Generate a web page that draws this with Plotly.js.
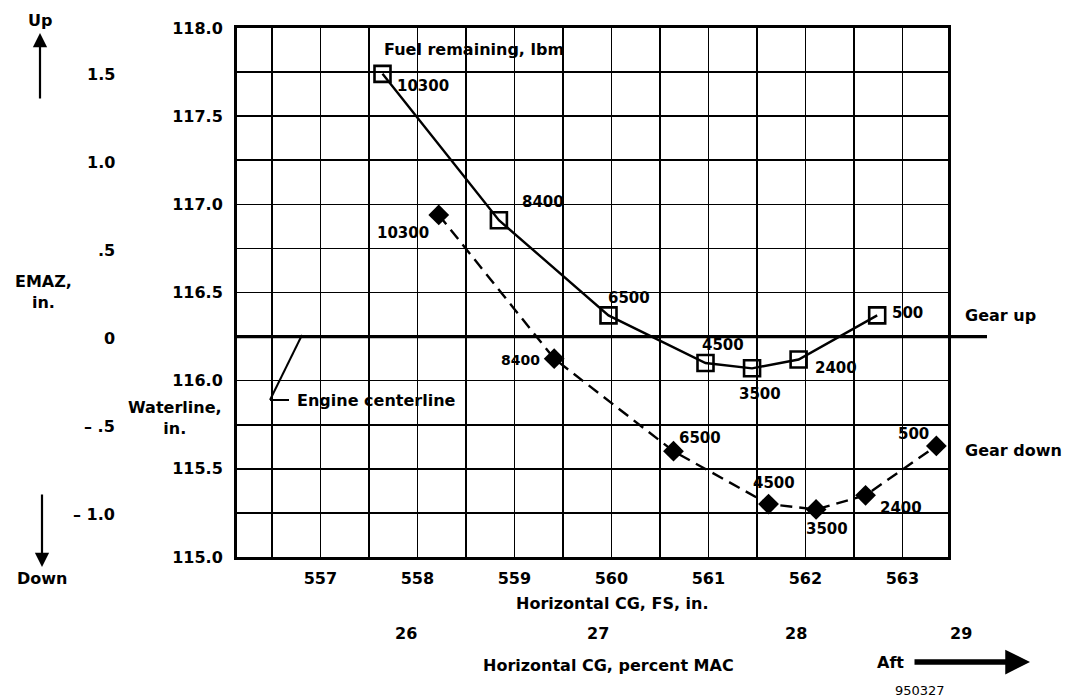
<!DOCTYPE html>
<html>
<head>
<meta charset="utf-8">
<script src="https://cdn.plot.ly/plotly-3.0.1.min.js"></script>
<style>html,body{margin:0;padding:0;background:#fff;}#chart{width:1075px;height:698px;}</style>
</head>
<body>
<div id="chart"></div>
<script>
// ---- data ----
const fuelLabels = ['10300','8400','6500','4500','3500','2400','500'];
const gearUpFS = [557.64, 558.84, 559.97, 560.97, 561.45, 561.93, 562.74];
const gearUpWL = [117.74, 116.91, 116.37, 116.10, 116.07, 116.12, 116.37];
const gearDownFS = [558.22, 559.41, 560.64, 561.62, 562.11, 562.62, 563.35];
const gearDownWL = [116.94, 116.125, 115.60, 115.30, 115.27, 115.35, 115.63];
const fsTicks = [557, 558, 559, 560, 561, 562, 563];
const wlTicks = [115.0, 115.5, 116.0, 116.5, 117.0, 117.5, 118.0];
const emazVals = [1.5, 1.0, 0.5, 0, -0.5, -1.0];
const emazText = ['1.5', '1.0', '.5', '0', '\u2013 .5', '\u2013 1.0'];
const engineCenterlineWL = 116.25;
const macText = ['26', '27', '28', '29'];
const macFS = [557.88, 559.86, 561.90, 563.60];

// ---- styling ----
const FONT = 'DejaVu Sans, Liberation Sans, Arial, sans-serif';
const f = (size, weight) => ({family: FONT, size: size, color: '#000', weight: weight || 700});
const upOffsets = [[40,-12],[44,18],[20,17],[17,18],[8,-26],[37,-8],[30,2]];
const downOffsets = [[-36,-18],[-34,-1],[27,13],[5,21],[11,-20],[35,-13],[-23,12]];
const XR = [556.14, 563.47];

const traces = [
  {x: gearUpFS, y: gearUpWL, mode: 'lines+markers', type: 'scatter', cliponaxis: false,
   line: {color: '#000', width: 2.4},
   marker: {symbol: 'square-open', size: 16, color: '#000', line: {width: 2.6, color: '#000'}},
   hoverinfo: 'skip'},
  {x: gearDownFS, y: gearDownWL, mode: 'lines+markers', type: 'scatter', cliponaxis: false,
   line: {color: '#000', width: 2.4, dash: '12px,7px'},
   marker: {symbol: 'diamond', size: 16, color: '#000'},
   hoverinfo: 'skip'}
];

const C = {showarrow: false, xanchor: 'center', yanchor: 'middle'};
const ann = [];
fuelLabels.forEach((t, i) => {
  ann.push(Object.assign({x: gearUpFS[i], y: gearUpWL[i], xref: 'x', yref: 'y', text: t,
    xshift: upOffsets[i][0], yshift: upOffsets[i][1], font: f(15)}, C));
  ann.push(Object.assign({x: gearDownFS[i], y: gearDownWL[i], xref: 'x', yref: 'y', text: t,
    xshift: downOffsets[i][0], yshift: downOffsets[i][1], font: f(i === 1 ? 14 : 15)}, C));
});
emazVals.forEach((v, i) => {
  ann.push(Object.assign({}, C, {x: -0.169, y: engineCenterlineWL + v, xref: 'paper', yref: 'y', text: emazText[i],
    xanchor: 'right', yshift: -2, font: f(16)}));
});
macText.forEach((t, i) => {
  ann.push(Object.assign({x: (macFS[i] - XR[0]) / (XR[1] - XR[0]), y: -0.144, xref: 'paper', yref: 'paper',
    text: t, font: f(16)}, C));
});
const P = (px) => (px - 237) / 711;     // paper x from pixel
const Q = (py) => (557 - py) / 529;     // paper y from pixel
const A = (o) => Object.assign({xref: 'paper', yref: 'paper'}, C, o);
ann.push(
  A({x: P(474), y: Q(50), text: 'Fuel remaining, lbm', font: f(16)}),
  A({x: P(963), y: Q(315), text: 'Gear up', xanchor: 'left', font: f(16)}),
  A({x: P(963), y: Q(450), text: 'Gear down', xanchor: 'left', font: f(16)}),
  A({x: P(295), y: Q(400), text: 'Engine centerline', xanchor: 'left', font: f(16)}),
  A({x: P(43), y: Q(292), text: 'EMAZ,<br>in.', font: f(16)}),
  A({x: P(175), y: Q(418), text: 'Waterline,<br>in.', font: f(16)}),
  A({x: P(40), y: Q(20), text: 'Up', font: f(16)}),
  A({x: P(42), y: Q(578), text: 'Down', font: f(16)}),
  A({x: P(40), y: Q(33), text: '', showarrow: true, ax: 0, ay: 67,
     arrowhead: 2, arrowsize: 1.3, arrowwidth: 2.2, arrowcolor: '#000'}),
  A({x: P(42), y: Q(567), text: '', showarrow: true, ax: 0, ay: -74,
     arrowhead: 2, arrowsize: 1.3, arrowwidth: 2.2, arrowcolor: '#000'}),
  A({x: P(612), y: Q(603), text: 'Horizontal CG, FS, in.', font: f(16)}),
  A({x: P(608), y: Q(665), text: 'Horizontal CG, percent MAC', font: f(16)}),
  A({x: P(890), y: Q(662), text: 'Aft', font: f(16)}),
  A({x: P(1030), y: Q(662), text: '', showarrow: true, ax: -117, ay: 0,
     arrowhead: 2, arrowsize: 0.9, arrowwidth: 5.5, arrowcolor: '#000', standoff: 0}),
  A({x: P(920), y: Q(690), text: '950327', font: f(13, 400)})
);

const shapes = [
  {type: 'line', xref: 'paper', yref: 'y', x0: 0, x1: P(987), y0: engineCenterlineWL, y1: engineCenterlineWL,
   line: {color: '#000', width: 3.2}},
  {type: 'line', xref: 'paper', yref: 'paper', x0: P(302), y0: Q(335), x1: P(270), y1: Q(400),
   line: {color: '#000', width: 2}},
  {type: 'line', xref: 'paper', yref: 'paper', x0: P(270), y0: Q(400), x1: P(289), y1: Q(400),
   line: {color: '#000', width: 2}}
];

const layout = {
  width: 1075, height: 698,
  margin: {l: 237, r: 127, t: 28, b: 141},
  paper_bgcolor: '#fff', plot_bgcolor: '#fff',
  showlegend: false,
  font: f(16),
  xaxis: {
    range: XR, tickvals: fsTicks, ticktext: fsTicks.map(String),
    showgrid: true, gridcolor: '#000', gridwidth: 1.6,
    minor: {dtick: 0.5, tick0: 556.5, showgrid: true, gridcolor: '#000', gridwidth: 1.6},
    showline: true, linecolor: '#000', linewidth: 3, mirror: true,
    ticks: '', ticklabelstandoff: 5, zeroline: false, fixedrange: true,
    tickfont: f(16)
  },
  yaxis: {
    range: [115, 118], tickvals: wlTicks, ticktext: wlTicks.map(v => v.toFixed(1)),
    showgrid: true, gridcolor: '#000', gridwidth: 1.6,
    minor: {dtick: 0.25, tick0: 115, showgrid: true, gridcolor: '#000', gridwidth: 1.6},
    showline: true, linecolor: '#000', linewidth: 3, mirror: true,
    ticks: '', ticklabelstandoff: 8, zeroline: false, fixedrange: true,
    tickfont: f(16)
  },
  annotations: ann,
  shapes: shapes
};

Plotly.newPlot('chart', traces, layout, {displayModeBar: false, staticPlot: true});
</script>
</body>
</html>
